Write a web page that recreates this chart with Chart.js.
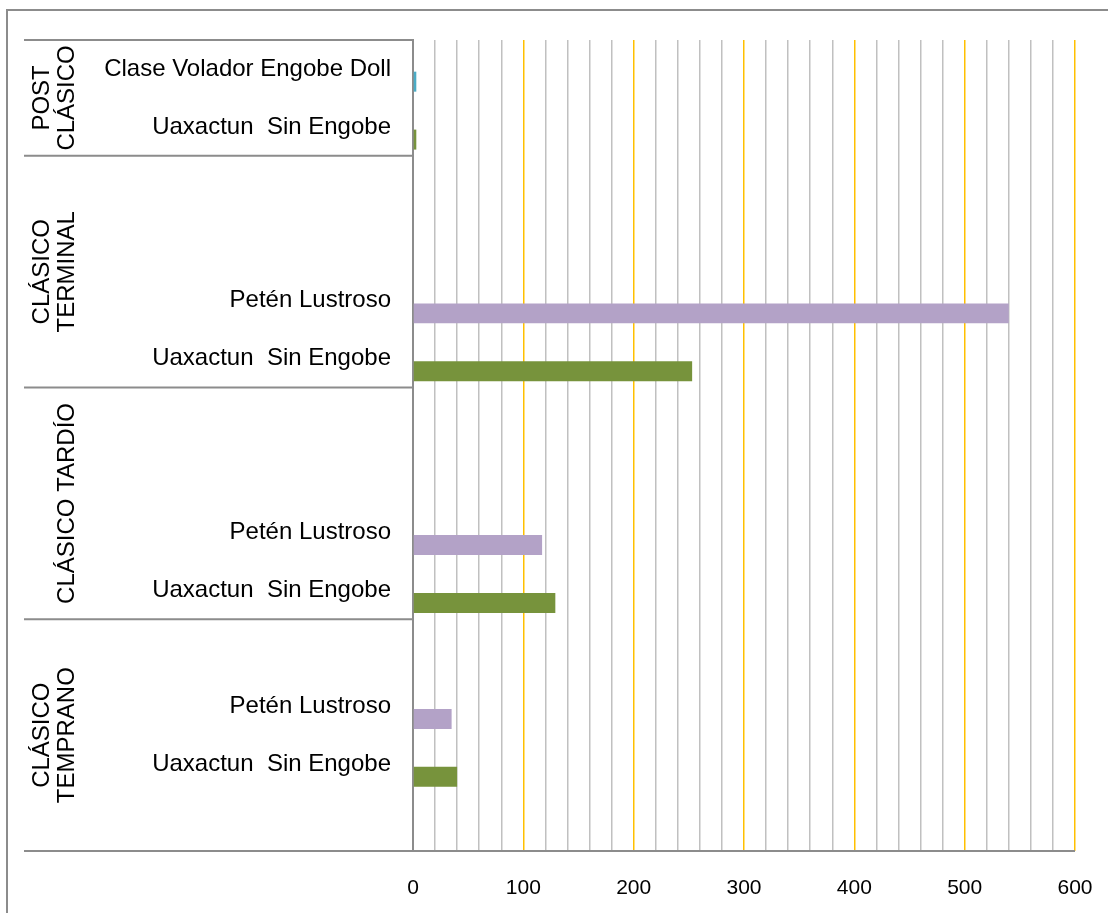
<!DOCTYPE html>
<html>
<head>
<meta charset="utf-8">
<title>Tipos cerámicos por periodo</title>
<script src="https://cdn.jsdelivr.net/npm/chart.js@4/dist/chart.umd.min.js"></script>
<style>
  html, body { margin: 0; padding: 0; background: #fff; }
  #wrap { position: relative; width: 1108px; height: 913px; }
</style>
</head>
<body>
<div id="wrap"><canvas id="tiposChart" width="1108" height="913"></canvas></div>
<script>
// tipos de cerámica, de arriba hacia abajo (las filas vacías separan los periodos)
var tipos = [
    'Clase Volador Engobe Doll', 'Uaxactun  Sin Engobe',
    '', '', 'Petén Lustroso', 'Uaxactun  Sin Engobe',
    '', '', 'Petén Lustroso', 'Uaxactun  Sin Engobe',
    '', 'Petén Lustroso', 'Uaxactun  Sin Engobe', ''
];
var cantidades = [3, 3, null, null, 540, 253, null, null, 117, 129, null, 35, 40, null];
var colores = [
    '#4BACC6', '#77933C',
    '#B3A2C7', '#77933C', '#B3A2C7', '#77933C',
    '#B3A2C7', '#77933C', '#B3A2C7', '#77933C',
    '#B3A2C7', '#B3A2C7', '#77933C', '#77933C'
];
// periodos y cuántas filas ocupa cada uno
var periodos = [['POST', 'CLÁSICO'], ['CLÁSICO', 'TERMINAL'], ['CLÁSICO TARDÍO'], ['CLÁSICO', 'TEMPRANO']];
var filasPorPeriodo = [2, 4, 4, 4];
var ejeMin = 0;
var ejeMax = 600;

var LINEA = '#8C8C8C';
var FUENTE = "'Liberation Sans', Arial, sans-serif";

// marco exterior, separadores de periodo y etiquetas de periodo giradas
var periodosPlugin = {
    id: 'periodos',
    beforeDraw: function(chart) {
        var ctx = chart.ctx;
        ctx.save();
        ctx.fillStyle = '#fff';
        ctx.fillRect(0, 0, chart.width, chart.height);
        ctx.strokeStyle = LINEA;
        ctx.lineWidth = 2;
        ctx.beginPath();
        ctx.moveTo(7, chart.height);
        ctx.lineTo(7, 10);
        ctx.lineTo(chart.width, 10);
        ctx.stroke();
        ctx.restore();
    },
    afterDraw: function(chart) {
        var ctx = chart.ctx;
        var y = chart.scales.y;
        var area = chart.chartArea;
        var paso = y.getPixelForValue(1) - y.getPixelForValue(0);
        var izq = 24;

        ctx.save();
        ctx.strokeStyle = LINEA;
        ctx.lineWidth = 2;
        ctx.beginPath();
        ctx.moveTo(izq, area.top);
        ctx.lineTo(area.left, area.top);
        ctx.moveTo(izq, area.bottom);
        ctx.lineTo(area.right, area.bottom);

        var fila = 0;
        var limites = [];
        for (var i = 0; i < periodos.length; i++) {
            var arriba = y.getPixelForValue(fila) - paso / 2;
            fila += filasPorPeriodo[i];
            var abajo = y.getPixelForValue(fila - 1) + paso / 2;
            limites.push([arriba, abajo]);
            if (i < periodos.length - 1) {
                ctx.moveTo(izq, abajo);
                ctx.lineTo(area.left, abajo);
            }
        }
        ctx.stroke();

        ctx.fillStyle = '#000';
        ctx.font = '24px ' + FUENTE;
        ctx.textAlign = 'center';
        ctx.textBaseline = 'middle';
        limites.forEach(function(lim, i) {
            var lineas = periodos[i];
            var centro = (lim[0] + lim[1]) / 2;
            for (var j = 0; j < lineas.length; j++) {
                var x = 67 - (lineas.length - 1 - j) * 25;
                ctx.save();
                ctx.translate(x, centro);
                ctx.rotate(-Math.PI / 2);
                ctx.fillText(lineas[j], 0, 0);
                ctx.restore();
            }
        });
        ctx.restore();
    }
};

var ctx = document.getElementById('tiposChart').getContext('2d');
var chart = new Chart(ctx, {
    type: 'bar',
    data: {
        labels: tipos,
        datasets: [{
            // serie vacía: deja el hueco superior de cada fila
            label: '',
            data: tipos.map(function() { return null; }),
            backgroundColor: 'rgba(0,0,0,0)'
        }, {
            label: 'Cantidad',
            data: cantidades,
            backgroundColor: colores,
            borderWidth: 0
        }]
    },
    options: {
        indexAxis: 'y',
        responsive: false,
        animation: false,
        categoryPercentage: 0.877,
        barPercentage: 0.787,
        layout: { padding: { top: 40, right: 33, left: 0, bottom: 0 } },
        plugins: {
            legend: { display: false },
            tooltip: { enabled: false }
        },
        scales: {
            x: {
                min: ejeMin,
                max: ejeMax,
                afterFit: function(scale) {
                    scale.height = 62;
                    scale.paddingLeft = 0;
                    scale.paddingRight = 0;
                },
                border: { display: false },
                grid: {
                    drawTicks: false,
                    lineWidth: 1.5,
                    color: function(c) {
                        if (c.tick.value === 0) return LINEA;
                        return c.tick.value % 100 === 0 ? '#FFC000' : '#C0C0C0';
                    }
                },
                ticks: {
                    stepSize: 20,
                    autoSkip: false,
                    maxRotation: 0,
                    padding: 25,
                    color: '#000',
                    font: { family: FUENTE, size: 21 },
                    callback: function(v) { return v % 100 === 0 ? String(v) : ''; }
                }
            },
            y: {
                afterFit: function(scale) { scale.width = 413; },
                border: { display: true, color: LINEA, width: 2 },
                grid: { display: false, drawTicks: false },
                ticks: {
                    autoSkip: false,
                    padding: 22,
                    color: '#000',
                    font: { family: FUENTE, size: 24 }
                }
            }
        }
    },
    plugins: [periodosPlugin]
});
</script>
</body>
</html>
